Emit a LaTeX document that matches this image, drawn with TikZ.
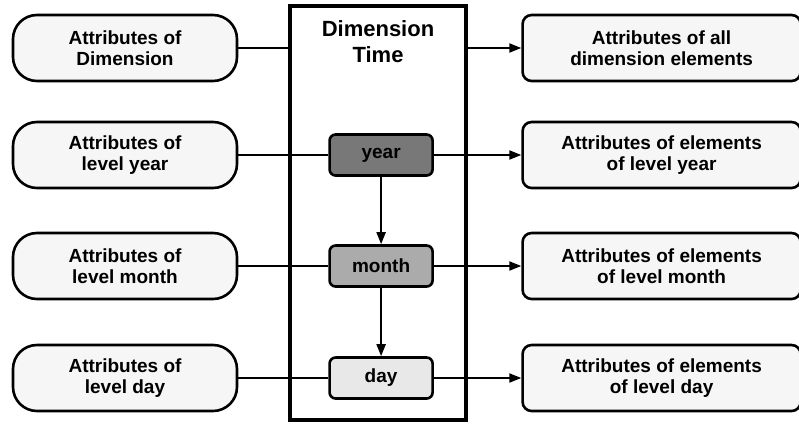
\documentclass[tikz,border=0pt]{standalone}
\usepackage{fontspec}
\setmainfont{Liberation Sans}
\usetikzlibrary{positioning,arrows.meta}

\definecolor{boxfill}{HTML}{F6F6F6}
\definecolor{yearfill}{HTML}{787878}
\definecolor{monthfill}{HTML}{ABABAB}
\definecolor{dayfill}{HTML}{E8E8E8}

\begin{document}
\begin{tikzpicture}[
  x=1pt, y=-1pt,
  basic/.style = {draw, line width=2.6pt, align=center, inner sep=0pt,
    font=\fontsize{19}{21}\selectfont\bfseries},
  attrbox/.style = {basic, fill=boxfill, rounded corners=24pt,
    minimum width=224pt, minimum height=66pt},
  elembox/.style = {basic, fill=boxfill, rounded corners=9pt,
    minimum width=278pt, minimum height=66pt},
  levelbox/.style = {basic, rounded corners=6pt,
    minimum width=103pt, minimum height=41pt},
  %dimbox/.style = {draw, line width=2pt},
  conn/.style = {line width=2pt},
  arr/.style = {conn, -{Triangle[length=12pt,width=9pt]}},
]
  \useasboundingbox (0,0) rectangle (799,423);

  % the dimension
  \node[draw, line width=3.2pt, minimum width=176pt, minimum height=414pt]
    (dimbox) at (378,213) {};
  \node[font=\fontsize{22}{26}\selectfont\bfseries, align=center]
    (dimtitle) at (378,42) {Dimension\\Time};

  % attributes on the left
  \node[attrbox] (attdim)   at (125,48)  {Attributes of\\Dimension};
  \node[attrbox] (attyear)  at (125,155) {Attributes of\\level year};
  \node[attrbox] (attmonth) at (125,266) {Attributes of\\level month};
  \node[attrbox] (attday)   at (125,378) {Attributes of\\level day};

  % levels
  \node[levelbox, fill=yearfill,  right=90pt of attyear]  (year)  {year};
  \node[levelbox, fill=monthfill, right=90pt of attmonth] (month) {month};
  \node[levelbox, fill=dayfill,   right=90pt of attday]   (day)   {day};

  % attributes on the right
  \node[elembox, right=283pt of attdim]   (elemall)
    {Attributes of all\\dimension elements};
  \node[elembox, right=283pt of attyear]  (elemyear)
    {Attributes of elements\\of level year};
  \node[elembox, right=283pt of attmonth] (elemmonth)
    {Attributes of elements\\of level month};
  \node[elembox, right=283pt of attday]   (elemday)
    {Attributes of elements\\of level day};

  \draw[conn] (attdim) -- (attdim -| dimbox.west);
  \draw[arr] (attdim -| dimbox.east) -- (elemall);

  \draw[conn] (attyear) -- (year);
  \draw[conn] (attmonth) -- (month);
  \draw[conn] (attday) -- (day);
  \draw[arr] (year) -- (elemyear);
  \draw[arr] (month) -- (elemmonth);
  \draw[arr] (day) -- (elemday);

  \draw[arr] (year) -- (month);
  \draw[arr] (month) -- (day);
\end{tikzpicture}
\end{document}
